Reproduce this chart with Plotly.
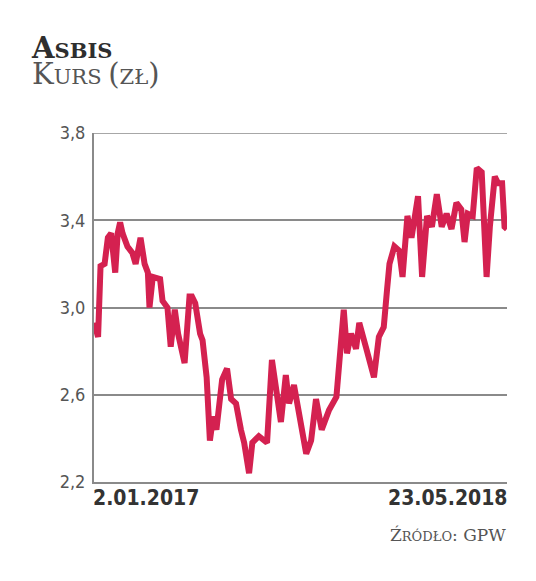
import plotly.graph_objects as go

# Asbis share price (PLN)
dates = [
    "2017-01-02", "2017-01-04", "2017-01-07", "2017-01-10", "2017-01-15", "2017-01-19",
    "2017-01-23", "2017-01-28", "2017-01-31", "2017-02-03", "2017-02-06", "2017-02-12",
    "2017-02-18", "2017-02-22", "2017-02-28", "2017-03-05", "2017-03-09", "2017-03-11",
    "2017-03-15", "2017-03-24", "2017-03-27", "2017-04-02", "2017-04-06", "2017-04-11",
    "2017-04-15", "2017-04-23", "2017-04-29", "2017-05-02", "2017-05-06", "2017-05-12",
    "2017-05-15", "2017-05-20", "2017-05-24", "2017-05-28", "2017-06-01", "2017-06-08",
    "2017-06-14", "2017-06-19", "2017-06-25", "2017-07-01", "2017-07-05", "2017-07-11",
    "2017-07-15", "2017-07-23", "2017-08-02", "2017-08-08", "2017-08-14", "2017-08-19",
    "2017-08-25", "2017-08-29", "2017-09-04", "2017-09-10", "2017-09-19", "2017-09-25",
    "2017-10-01", "2017-10-08", "2017-10-17", "2017-10-26", "2017-10-29", "2017-11-04",
    "2017-11-08", "2017-11-13", "2017-11-19", "2017-11-23", "2017-12-01", "2017-12-11",
    "2017-12-17", "2017-12-23", "2017-12-27", "2017-12-30", "2018-01-05", "2018-01-11",
    "2018-01-15", "2018-01-21", "2018-01-26", "2018-02-03", "2018-02-08", "2018-02-14",
    "2018-02-20", "2018-02-26", "2018-03-04", "2018-03-10", "2018-03-16", "2018-03-22",
    "2018-03-28", "2018-04-01", "2018-04-05", "2018-04-11", "2018-04-16", "2018-04-22",
    "2018-04-28", "2018-05-02", "2018-05-08", "2018-05-12", "2018-05-17", "2018-05-20",
    "2018-05-23",
]
prices = [
    2.93, 2.90, 2.865, 3.19, 3.20, 3.32,
    3.34, 3.16, 3.34, 3.39, 3.34, 3.28,
    3.25, 3.20, 3.32, 3.20, 3.16, 3.00,
    3.14, 3.13, 3.03, 3.00, 2.82, 2.99,
    2.88, 2.745, 3.05, 3.05, 3.02, 2.88,
    2.85, 2.68, 2.39, 2.50, 2.44, 2.67,
    2.72, 2.58, 2.56, 2.44, 2.38, 2.24,
    2.38, 2.41, 2.38, 2.76, 2.62, 2.475,
    2.69, 2.56, 2.645, 2.53, 2.33, 2.39,
    2.58, 2.44, 2.53, 2.59, 2.71, 2.99,
    2.79, 2.88, 2.81, 2.93, 2.82, 2.68,
    2.865, 2.91, 3.08, 3.20, 3.28, 3.26,
    3.14, 3.42, 3.32, 3.51, 3.14, 3.42,
    3.37, 3.52, 3.37, 3.43, 3.36, 3.48,
    3.45, 3.30, 3.43, 3.42, 3.64, 3.62,
    3.14, 3.37, 3.60, 3.57, 3.57, 3.37,
    3.36,
]
y_ticks = [2.2, 2.6, 3.0, 3.4, 3.8]
y_tick_labels = ["2,2", "2,6", "3,0", "3,4", "3,8"]
start_label = "2.01.2017"
end_label = "23.05.2018"

LINE = "#d42150"
GRID = "#8a8a8a"
COND = "DejaVu Sans Condensed"
SERIF = "DejaVu Serif, serif"

# the page body has an 8px margin; figure is sized to fit the window
W, H = 528, 573
L, R, T, B = 86, 29, 125, 99
OFF = 8


def px_x(page_x):
    return (page_x - OFF - L) / (W - L - R)


def px_y(page_y):
    return (H - B - (page_y - OFF)) / (H - T - B)


title_text = (
    "<b><span style='font-size:29px;color:#2e2e2e'>A</span>"
    "<span style='font-size:21px;color:#2e2e2e'>SBIS</span></b><br>"
    "<span style='font-size:29px;color:#555555'>K</span>"
    "<span style='font-size:21px;color:#555555'>URS </span>"
    "<span style='font-size:29px;color:#555555'>(</span>"
    "<span style='font-size:21px;color:#555555'>ZŁ</span>"
    "<span style='font-size:29px;color:#555555'>)</span>"
)

fig = go.Figure()
fig.add_trace(go.Scatter(
    x=dates, y=prices, mode="lines",
    line=dict(color=LINE, width=6, shape="linear"),
    hoverinfo="skip", showlegend=False,
))

fig.update_layout(
    width=W, height=H,
    margin=dict(l=L, r=R, t=T, b=B),
    paper_bgcolor="white", plot_bgcolor="white",
    xaxis=dict(
        range=[dates[0], dates[-1]],
        showgrid=False, zeroline=False, showticklabels=False, ticks="",
        showline=True, linecolor=GRID, linewidth=2,
    ),
    yaxis=dict(
        range=[y_ticks[0], y_ticks[-1]],
        tickvals=y_ticks, ticktext=y_tick_labels,
        showgrid=True, gridcolor=GRID, gridwidth=1.6,
        zeroline=False, showline=True, linecolor=GRID, linewidth=2,
        ticks="outside", ticklen=3, tickcolor="rgba(0,0,0,0)",
        tickfont=dict(family=COND, size=18, color="#555555"),
    ),
    shapes=[
        dict(type="line", xref="paper", yref="y", x0=0, x1=1,
             y0=y_ticks[-1], y1=y_ticks[-1], layer="below",
             line=dict(color=GRID, width=1.6)),
    ],
    annotations=[
        dict(x=dates[0], y=0, xref="x", yref="paper", xanchor="left", yanchor="top",
             yshift=-2, xshift=-3, text="<b>" + start_label + "</b>", showarrow=False,
             font=dict(family=COND, size=21, color="#333333")),
        dict(x=dates[-1], y=0, xref="x", yref="paper", xanchor="right", yanchor="top",
             yshift=-2, xshift=3, text="<b>" + end_label + "</b>", showarrow=False,
             font=dict(family=COND, size=21, color="#333333")),
        dict(x=px_x(29), y=px_y(60.5), xref="paper", yref="paper", xanchor="left", yanchor="middle",
             align="left", showarrow=False, text=title_text,
             font=dict(family=SERIF, size=20, color="#555555")),
        dict(x=px_x(508), y=px_y(547), xref="paper", yref="paper", xanchor="right", yanchor="bottom",
             showarrow=False,
             text="<span style='font-size:17px'>Ź</span><span style='font-size:13px'>RÓDŁO</span>"
                  "<span style='font-size:17px'>: GPW</span>",
             font=dict(family=SERIF, size=17, color="#555555")),
    ],
)

fig.write_html("out.html")
